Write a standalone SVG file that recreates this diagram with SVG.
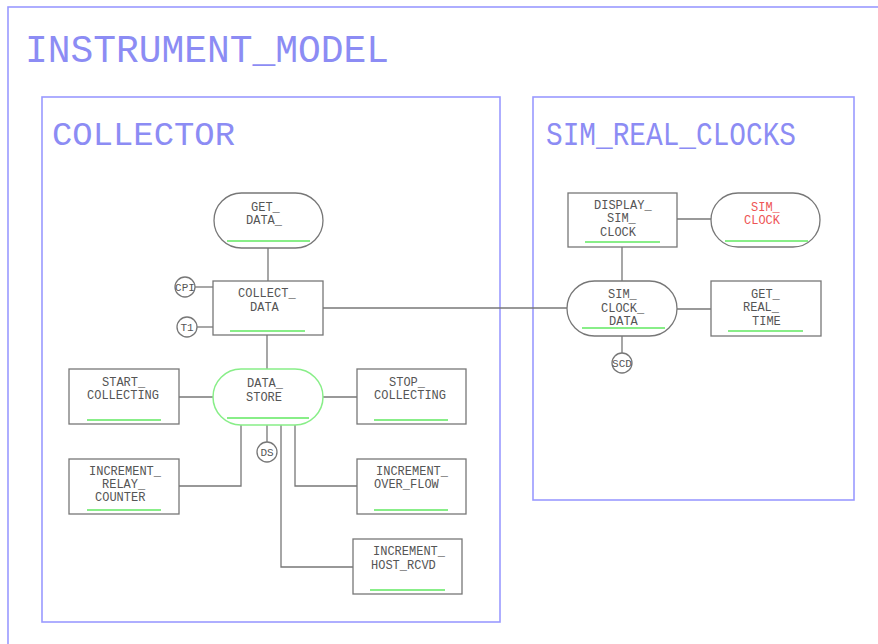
<svg xmlns="http://www.w3.org/2000/svg" width="878" height="644" viewBox="0 0 878 644">
<style>
.frame{fill:none;stroke:#9a9aff;stroke-width:1.6}
.title{fill:#8c8cf4;font-family:"Liberation Mono","DejaVu Sans Mono",monospace}
.node{fill:#fff;stroke:#777;stroke-width:1.3}
.store{fill:#fff;stroke:#88ee88;stroke-width:1.5}
.ul{stroke:#88ee88;stroke-width:1.8}
.t{fill:#555;font-family:"Liberation Mono","DejaVu Sans Mono",monospace;font-size:12px}
.red{fill:#ee5555}
.c{fill:#555;font-family:"Liberation Mono","DejaVu Sans Mono",monospace;font-size:11px;text-anchor:middle}
.conn{fill:none;stroke:#777;stroke-width:1.3}
</style>
<rect width="878" height="644" fill="#fff"/>
<g id="instrument_model">
<rect class="frame" x="8" y="7" width="900" height="700"/>
<text class="title" x="25" y="62" font-size="38" textLength="364" lengthAdjust="spacingAndGlyphs">INSTRUMENT_MODEL</text>
</g>
<g id="collector">
<rect class="frame" x="42" y="97" width="458" height="525"/>
<text class="title" x="52" y="145" font-size="34" textLength="183" lengthAdjust="spacingAndGlyphs">COLLECTOR</text>
</g>
<g id="sim_real_clocks">
<rect class="frame" x="533" y="97" width="321" height="403"/>
<text class="title" x="546" y="145" font-size="33" textLength="250" lengthAdjust="spacingAndGlyphs">SIM_REAL_CLOCKS</text>
</g>
<g id="connectors">
<line class="conn" x1="268" y1="248" x2="268" y2="281"/>
<line class="conn" x1="195" y1="287" x2="213" y2="287"/>
<line class="conn" x1="197" y1="327" x2="213" y2="327"/>
<line class="conn" x1="323" y1="308" x2="567" y2="308"/>
<line class="conn" x1="267" y1="335" x2="267" y2="369"/>
<line class="conn" x1="179" y1="397" x2="213" y2="397"/>
<line class="conn" x1="323" y1="397" x2="357" y2="397"/>
<line class="conn" x1="267" y1="425" x2="267" y2="442"/>
<polyline class="conn" points="179,486 241,486 241,425"/>
<polyline class="conn" points="295,425 295,486 357,486"/>
<polyline class="conn" points="281,425 281,567 353,567"/>
<line class="conn" x1="677" y1="219" x2="711" y2="219"/>
<line class="conn" x1="622" y1="247" x2="622" y2="281"/>
<line class="conn" x1="677" y1="309" x2="711" y2="309"/>
<line class="conn" x1="622" y1="336" x2="622" y2="353"/>
</g>
<g id="get_data">
<rect class="node" x="214" y="193" width="109" height="55" rx="27.5"/>
<line class="ul" x1="227" y1="241" x2="310" y2="241"/>
<text class="t" x="251" y="211">GET_</text>
<text class="t" x="246" y="224">DATA_</text>
</g>
<g id="collect_data">
<rect class="node" x="213" y="281" width="110" height="54"/>
<line class="ul" x1="230" y1="331" x2="305" y2="331"/>
<text class="t" x="238" y="297">COLLECT_</text>
<text class="t" x="250" y="311">DATA</text>
</g>
<g id="cpi">
<circle class="node" cx="185" cy="287" r="10"/>
<text class="c" x="185" y="291">CPI</text>
</g>
<g id="t1">
<circle class="node" cx="187" cy="327" r="10"/>
<text class="c" x="187" y="331">T1</text>
</g>
<g id="data_store">
<rect class="store" x="213" y="369" width="110" height="56" rx="28"/>
<line class="ul" x1="227" y1="418" x2="309" y2="418"/>
<text class="t" x="247" y="387">DATA_</text>
<text class="t" x="246" y="401">STORE</text>
</g>
<g id="start_collecting">
<rect class="node" x="69" y="369" width="110" height="55"/>
<line class="ul" x1="87" y1="420" x2="161" y2="420"/>
<text class="t" x="102" y="386">START_</text>
<text class="t" x="87" y="399">COLLECTING</text>
</g>
<g id="stop_collecting">
<rect class="node" x="357" y="369" width="109" height="55"/>
<line class="ul" x1="374" y1="420" x2="448" y2="420"/>
<text class="t" x="389" y="386">STOP_</text>
<text class="t" x="374" y="399">COLLECTING</text>
</g>
<g id="ds">
<circle class="node" cx="267" cy="452" r="10"/>
<text class="c" x="267" y="456">DS</text>
</g>
<g id="increment_relay_counter">
<rect class="node" x="69" y="459" width="110" height="55"/>
<line class="ul" x1="87" y1="510" x2="161" y2="510"/>
<text class="t" x="89" y="475">INCREMENT_</text>
<text class="t" x="102" y="488">RELAY_</text>
<text class="t" x="95" y="501">COUNTER</text>
</g>
<g id="increment_over_flow">
<rect class="node" x="357" y="459" width="109" height="55"/>
<line class="ul" x1="374" y1="510" x2="448" y2="510"/>
<text class="t" x="376" y="475">INCREMENT_</text>
<text class="t" x="374" y="488">OVER_FLOW</text>
</g>
<g id="increment_host_rcvd">
<rect class="node" x="353" y="539" width="109" height="55"/>
<line class="ul" x1="370" y1="590" x2="445" y2="590"/>
<text class="t" x="373" y="555">INCREMENT_</text>
<text class="t" x="371" y="569">HOST_RCVD</text>
</g>
<g id="display_sim_clock">
<rect class="node" x="568" y="193" width="109" height="54"/>
<line class="ul" x1="585" y1="242" x2="660" y2="242"/>
<text class="t" x="594" y="209">DISPLAY_</text>
<text class="t" x="607" y="222">SIM_</text>
<text class="t" x="600" y="236">CLOCK</text>
</g>
<g id="sim_clock">
<rect class="node" x="711" y="193" width="109" height="54" rx="27"/>
<line class="ul" x1="725" y1="241" x2="808" y2="241"/>
<text class="t red" x="751" y="211">SIM_</text>
<text class="t red" x="744" y="224">CLOCK</text>
</g>
<g id="sim_clock_data">
<rect class="node" x="567" y="281" width="110" height="55" rx="27.5"/>
<line class="ul" x1="582" y1="328" x2="665" y2="328"/>
<text class="t" x="608" y="298">SIM_</text>
<text class="t" x="601" y="312">CLOCK_</text>
<text class="t" x="609" y="325">DATA</text>
</g>
<g id="get_real_time">
<rect class="node" x="711" y="281" width="110" height="55"/>
<line class="ul" x1="728" y1="331" x2="803" y2="331"/>
<text class="t" x="751" y="298">GET_</text>
<text class="t" x="743" y="311">REAL_</text>
<text class="t" x="752" y="325">TIME</text>
</g>
<g id="scd">
<circle class="node" cx="622" cy="363" r="10"/>
<text class="c" x="622" y="367">SCD</text>
</g>
</svg>
